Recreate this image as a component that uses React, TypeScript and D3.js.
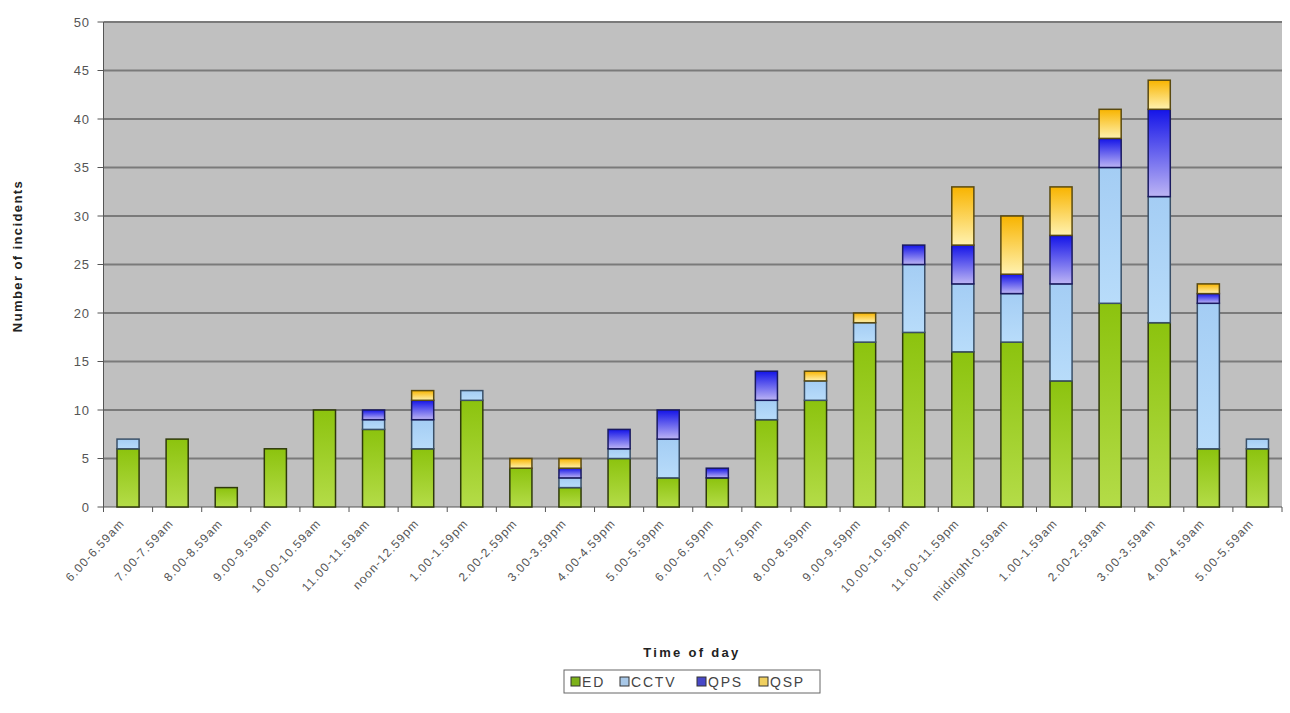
import React from "react";
import * as d3 from "d3";

const categories = [
  "6.00-6.59am", "7.00-7.59am", "8.00-8.59am", "9.00-9.59am", "10.00-10.59am",
  "11.00-11.59am", "noon-12.59pm", "1.00-1.59pm", "2.00-2.59pm", "3.00-3.59pm",
  "4.00-4.59pm", "5.00-5.59pm", "6.00-6.59pm", "7.00-7.59pm", "8.00-8.59pm",
  "9.00-9.59pm", "10.00-10.59pm", "11.00-11.59pm", "midnight-0.59am", "1.00-1.59am",
  "2.00-2.59am", "3.00-3.59am", "4.00-4.59am", "5.00-5.59am",
];
const ED = [6, 7, 2, 6, 10, 8, 6, 11, 4, 2, 5, 3, 3, 9, 11, 17, 18, 16, 17, 13, 21, 19, 6, 6];
const CCTV = [1, 0, 0, 0, 0, 1, 3, 1, 0, 1, 1, 4, 0, 2, 2, 2, 7, 7, 5, 10, 14, 13, 15, 1];
const QPS = [0, 0, 0, 0, 0, 1, 2, 0, 0, 1, 2, 3, 1, 3, 0, 0, 2, 4, 2, 5, 3, 9, 1, 0];
const QSP = [0, 0, 0, 0, 0, 0, 1, 0, 1, 1, 0, 0, 0, 0, 1, 1, 0, 6, 6, 5, 3, 3, 1, 0];
const seriesNames = ["ED", "CCTV", "QPS", "QSP"];
const yTicks = [0, 5, 10, 15, 20, 25, 30, 35, 40, 45, 50];

const FONT = "'Liberation Sans', Arial, sans-serif";

export default function App() {
  const W = 1290, H = 713;
  const left = 103.5, right = 1282, top = 22, bottom = 507;
  const x = d3.scaleBand().domain(categories).range([left, right]).paddingInner(0.55).paddingOuter(0.275);
  const xb = d3.scaleBand().domain(categories).range([left, right]);
  const y = d3.scaleLinear().domain([0, 50]).range([bottom, top]);
  const rows = categories.map((c, i) => ({ cat: c, ED: ED[i], CCTV: CCTV[i], QPS: QPS[i], QSP: QSP[i] }));
  const stacked = d3.stack<any>().keys(seriesNames)(rows);
  const fills = ["url(#gED)", "url(#gCCTV)", "url(#gQPS)", "url(#gQSP)"];
  const strokes = ["#2f3a0a", "#3a5068", "#1a1a60", "#5a4a10"];
  const legendSw = ["#7db21a", "#a8c8e8", "#4848c8", "#f0d060"];
  const legendItems = [
    { name: "ED", x: 571 },
    { name: "CCTV", x: 620 },
    { name: "QPS", x: 697 },
    { name: "QSP", x: 759 },
  ];
  return (
    <svg width={W} height={H} style={{ display: "block", position: "absolute", left: 0, top: 0 }} fontFamily={FONT}>
      <defs>
        <linearGradient id="gED" x1="0" y1="0" x2="0" y2="1">
          <stop offset="0" stopColor="#8cc30e" />
          <stop offset="1" stopColor="#b4dc48" />
        </linearGradient>
        <linearGradient id="gCCTV" x1="0" y1="0" x2="0" y2="1">
          <stop offset="0" stopColor="#a4cdf4" />
          <stop offset="1" stopColor="#b8dcfa" />
        </linearGradient>
        <linearGradient id="gQPS" x1="0" y1="0" x2="0" y2="1">
          <stop offset="0" stopColor="#1414e8" />
          <stop offset="1" stopColor="#bcb4f4" />
        </linearGradient>
        <linearGradient id="gQSP" x1="0" y1="0" x2="0" y2="1">
          <stop offset="0" stopColor="#f8b400" />
          <stop offset="1" stopColor="#fff2b0" />
        </linearGradient>
      </defs>
      <rect x={0} y={0} width={W} height={H} fill="#ffffff" />
      <rect x={left} y={top} width={right - left} height={bottom - top} fill="#c0c0c0" />
      {yTicks.map((t) => (
        <g key={t}>
          {t > 0 && <line x1={left} x2={right} y1={y(t)} y2={y(t)} stroke="#7a7a7a" strokeWidth={2} />}
          <line x1={left - 6} x2={left} y1={y(t)} y2={y(t)} stroke="#555" strokeWidth={1} />
          <text x={left - 14} y={y(t)} dy="0.35em" textAnchor="end" fontSize={13} letterSpacing={0.6} fill="#555">{t}</text>
        </g>
      ))}
      <line x1={left} x2={left} y1={top} y2={bottom} stroke="#555" strokeWidth={1} />
      <line x1={left} x2={right} y1={bottom} y2={bottom} stroke="#555" strokeWidth={1} />
      {categories.map((c, i) => (
        <line key={"t" + i} x1={xb(c)!} x2={xb(c)!} y1={bottom} y2={bottom + 5} stroke="#555" />
      ))}
      <line x1={right} x2={right} y1={bottom} y2={bottom + 5} stroke="#555" />
      {stacked.map((s, si) => (
        <g key={seriesNames[si]}>
          {s.map((d, i) =>
            d[1] - d[0] > 0 ? (
              <rect
                key={i}
                x={x(categories[i])!}
                y={y(d[1])}
                width={x.bandwidth()}
                height={y(d[0]) - y(d[1])}
                fill={fills[si]}
                stroke={strokes[si]}
                strokeWidth={1.5}
              />
            ) : null
          )}
        </g>
      ))}
      {categories.map((c, i) => {
        const cx = xb(c)! + xb.bandwidth() / 2 - 3;
        const cy = bottom + 17;
        return (
          <text key={"l" + i} x={cx} y={cy} textAnchor="end" fontSize={12} letterSpacing={1.1} fill="#555"
            transform={`rotate(-47, ${cx}, ${cy})`}>{c}</text>
        );
      })}
      <text x={692} y={657} textAnchor="middle" fontSize={13} fontWeight="bold" letterSpacing={2.3} fill="#222">Time of day</text>
      <text transform={`translate(22, 256) rotate(-90)`} textAnchor="middle" fontSize={13} fontWeight="bold" letterSpacing={1.4} fill="#222">Number of incidents</text>
      <rect x={564} y={670} width={256} height={23} fill="#ffffff" stroke="#666" strokeWidth={1} />
      {legendItems.map((l, i) => (
        <g key={l.name}>
          <rect x={l.x} y={677} width={9} height={9} fill={legendSw[i]} stroke="#333" strokeWidth={1} />
          <text x={l.x + 11} y={686.5} fontSize={14} letterSpacing={1.8} fill="#444">{l.name}</text>
        </g>
      ))}
    </svg>
  );
}
